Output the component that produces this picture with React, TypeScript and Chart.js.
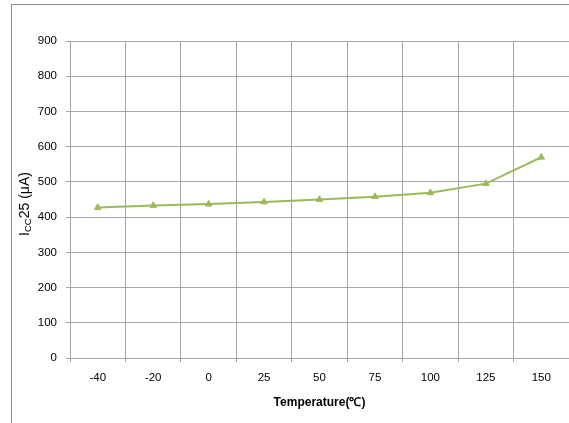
import React, { useEffect, useRef } from "react";
import { Chart, registerables } from "chart.js";

Chart.register(...registerables);

const categories = ["-40", "-20", "0", "25", "50", "75", "100", "125", "150"];
const iccValues = [427, 433, 437, 443, 450, 458, 469, 495, 570];
const yTicks = [0, 100, 200, 300, 400, 500, 600, 700, 800, 900];

const FONT = "'Liberation Sans', Arial, sans-serif";
const GRID = "#a6a6a6";
const GREEN = "#9bbb59";

const framePlugin = {
  id: "frame",
  beforeDraw(chart: any) {
    const ctx = chart.ctx;
    ctx.save();
    ctx.fillStyle = "#ffffff";
    ctx.fillRect(0, 0, chart.width, chart.height);
    ctx.strokeStyle = "#8c8c8c";
    ctx.lineWidth = 1;
    ctx.strokeRect(11.5, 4.5, 800, 800);
    ctx.restore();
  },
  afterDraw(chart: any) {
    const ctx = chart.ctx;
    const area = chart.chartArea;
    ctx.save();
    ctx.fillStyle = "#000";
    ctx.font = `bold 12px ${FONT}`;
    ctx.textAlign = "center";
    ctx.textBaseline = "middle";
    ctx.fillText("Temperature(\u2103)", (area.left + area.right) / 2, 403);
    ctx.translate(25, 204);
    ctx.rotate(-Math.PI / 2);
    ctx.textAlign = "left";
    ctx.textBaseline = "middle";
    const big = `14px ${FONT}`;
    const small = `9.5px ${FONT}`;
    const parts = [
      { t: "I", f: big, dy: 0 },
      { t: "CC", f: small, dy: 3 },
      { t: "25 (\u03bcA)", f: big, dy: 0 },
    ];
    let total = 0;
    for (const p of parts) {
      ctx.font = p.f;
      total += ctx.measureText(p.t).width;
    }
    let x = -total / 2;
    for (const p of parts) {
      ctx.font = p.f;
      ctx.fillText(p.t, x, p.dy);
      x += ctx.measureText(p.t).width;
    }
    ctx.restore();
  },
};

export default function App() {
  const ref = useRef<HTMLCanvasElement | null>(null);
  useEffect(() => {
    document.body.style.margin = "0";
    const chart = new Chart(ref.current as HTMLCanvasElement, {
      type: "line",
      data: {
        labels: categories,
        datasets: [
          {
            data: iccValues,
            borderColor: GREEN,
            backgroundColor: GREEN,
            borderWidth: 2,
            pointStyle: "triangle",
            pointRadius: 3.8,
            pointBorderWidth: 1,
            pointBorderColor: GREEN,
            pointBackgroundColor: GREEN,
            tension: 0,
          },
        ],
      },
      options: {
        animation: false,
        responsive: false,
        maintainAspectRatio: false,
        layout: { autoPadding: false, padding: { left: 0, top: 41, right: 0, bottom: 0 } },
        plugins: { legend: { display: false }, tooltip: { enabled: false } },
        scales: {
          x: {
            type: "category",
            offset: true,
            grid: { offset: true, color: GRID, tickLength: 4, drawTicks: true },
            border: { color: GRID, width: 1 },
            ticks: {
              color: "#000",
              font: { family: FONT, size: 11.5 },
              padding: 9,
              maxRotation: 0,
              autoSkip: false,
            },
            afterFit(scale: any) {
              scale.height = 65;
              scale.paddingLeft = 0;
              scale.paddingRight = 0;
            },
          },
          y: {
            min: 0,
            max: 900,
            afterBuildTicks(scale: any) {
              scale.ticks = yTicks.map((v) => ({ value: v }));
            },
            grid: { color: GRID, tickLength: 4, drawTicks: true },
            border: { color: GRID, width: 1 },
            ticks: {
              color: "#000",
              font: { family: FONT, size: 11.5 },
              padding: 9,
            },
            afterFit(scale: any) {
              scale.width = 70;
              scale.paddingTop = 0;
              scale.paddingBottom = 0;
            },
          },
        },
      },
      plugins: [framePlugin],
    });
    return () => chart.destroy();
  }, []);
  return (
    <div style={{ width: 569, height: 423 }}>
      <canvas ref={ref} width={569} height={423} style={{ display: "block" }} />
    </div>
  );
}
